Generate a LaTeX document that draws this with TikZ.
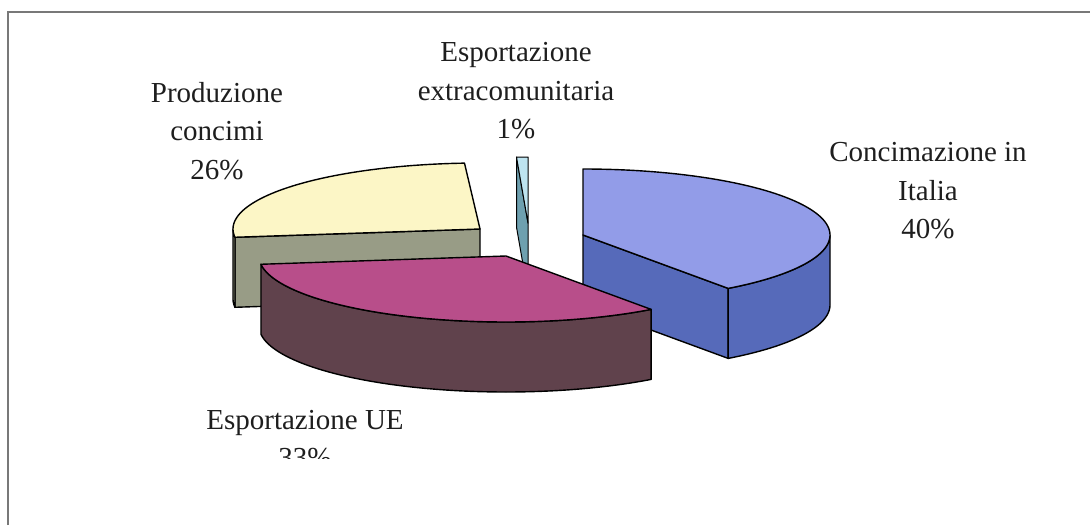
\documentclass[tikz,border=0pt]{standalone}
\usepackage{fontspec}
\setmainfont{Liberation Serif}
\definecolor{bluetop}{RGB}{146,156,232}
\definecolor{blueside}{RGB}{86,106,186}
\definecolor{magtop}{RGB}{184,78,138}
\definecolor{magside}{RGB}{96,66,76}
\definecolor{yeltop}{RGB}{252,246,198}
\definecolor{yelside}{RGB}{152,156,134}
\definecolor{exttop}{RGB}{190,228,240}
\definecolor{extside}{RGB}{110,160,175}
\definecolor{framegray}{RGB}{120,120,120}
\definecolor{labelcol}{RGB}{30,30,30}
\tikzset{
  face/.style={draw=black, line width=1.4pt, line join=round},
  lbl/.style={align=center, inner sep=0pt, text=labelcol,
    font=\fontsize{29}{38.5}\selectfont},
}
\begin{document}
\begin{tikzpicture}[x=1pt,y=-1pt]
\useasboundingbox (0,0) rectangle (1090,525);
% frame
\draw[framegray, line width=2pt] (8,525) -- (8,12) -- (1090,12);

% ---------- Produzione concimi (yellow), centre (480,229), 93.6..187.2
\fill[face, fill=yelside] (480,229) -- (234.9,237.3) -- (234.9,307.3) -- (480,299) -- cycle;
\fill[face, fill=yelside] plot[domain=180:187.2, samples=10] ({480+247*cos(\x)},{229-66*sin(\x)})
   -- plot[domain=187.2:180, samples=10] ({480+247*cos(\x)},{299-66*sin(\x)}) -- cycle;
\fill[face, fill=yeltop] (480,229) -- plot[domain=93.6:187.2, samples=60] ({480+247*cos(\x)},{229-66*sin(\x)}) -- cycle;

% ---------- Esportazione extracomunitaria (1%), centre (528,223), 90..93.6
\fill[face, fill=extside, line width=1pt] (528,223) -- (516.5,157.1) -- (516.5,227.1) -- (528,293) -- cycle;
\fill[face, fill=exttop, line width=1pt] (528,223) -- (528,157) -- (516.5,157.1) -- cycle;

% ---------- Concimazione in Italia (blue), centre (583,235), -54..90
\fill[face, fill=blueside] (583,235) -- (728.2,288.4) -- (728.2,358.4) -- (583,305) -- cycle;
\fill[face, fill=blueside] plot[domain=-54:0, samples=40] ({583+247*cos(\x)},{235-66*sin(\x)})
   -- plot[domain=0:-54, samples=40] ({583+247*cos(\x)},{305-66*sin(\x)}) -- cycle;
\fill[face, fill=bluetop] (583,235) -- plot[domain=-54:90, samples=80] ({583+247*cos(\x)},{235-66*sin(\x)}) -- cycle;

% ---------- Esportazione UE (magenta), centre (506,256), -172.8..-54
\fill[face, fill=magside] plot[domain=-172.8:-54, samples=80] ({506+247*cos(\x)},{256-66*sin(\x)})
   -- plot[domain=-54:-172.8, samples=80] ({506+247*cos(\x)},{326-66*sin(\x)}) -- cycle;
\fill[face, fill=magtop] (506,256) -- plot[domain=-172.8:-54, samples=80] ({506+247*cos(\x)},{256-66*sin(\x)}) -- cycle;

% ---------- labels
\node[lbl] (lext) at (516,91) {Esportazione\\extracomunitaria\\1\%};
\node[lbl] (lprod) at (217,131) {Produzione\\concimi\\26\%};
\node[lbl] (lita) at (928,191) {Concimazione in\\Italia\\40\%};
\begin{scope}
  \clip (0,0) rectangle (1090,458);
  \node[lbl] (lue) at (305,439) {Esportazione UE\\33\%};
\end{scope}
\end{tikzpicture}
\end{document}
